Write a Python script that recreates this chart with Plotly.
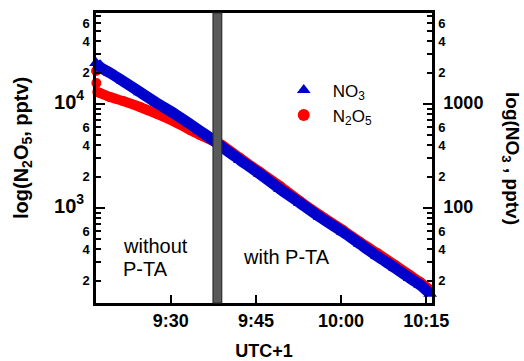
import pandas as pd
import plotly.graph_objects as go

DAY = "2021-01-01 "

# NO3 mixing ratio (pptv), right axis
no3_time = ["09:16:51", "09:17:33", "09:19:19", "09:21:36", "09:24:36", "09:27:35",
            "09:30:46", "09:33:24", "09:35:10", "09:37:27", "09:39:02", "09:42:12",
            "09:45:43", "09:49:15", "09:52:45", "09:56:15", "10:00:20", "10:03:20",
            "10:06:20", "10:09:30", "10:12:05", "10:13:55", "10:15:40"]
no3_pptv = [2480, 2270, 1990, 1660, 1300, 1020, 800, 642, 550, 451, 386, 290,
            212, 152, 112, 82, 58.7, 45, 34.5, 26.5, 21.2, 18.2, 15.0]

# N2O5 mixing ratio (pptv), left axis
n2o5_time = ["09:16:52", "09:16:55", "09:17:05", "09:17:33", "09:19:19", "09:21:36",
             "09:24:36", "09:27:35", "09:30:46", "09:33:24", "09:35:10", "09:37:27",
             "09:39:02", "09:42:12", "09:45:43", "09:49:15", "09:52:45", "09:56:15",
             "10:00:20", "10:03:20", "10:06:20", "10:09:30", "10:12:05", "10:13:55",
             "10:15:40"]
n2o5_pptv = [20750, 15900, 13040, 12760, 11670, 10690, 9360, 8010, 6710, 5620,
             5040, 4405, 4036, 3029, 2222, 1627, 1167, 857, 614, 471, 369, 283,
             227, 194, 163]

# period when P-TA was switched in
switch_start, switch_end = "09:37:27", "09:38:59"
time_ticks = ["09:30", "09:45", "10:00", "10:15"]
x_window = ["09:16:51", "10:16:00"]

FONT = "Arial, Liberation Sans, sans-serif"
BLUE = "#0000cc"
RED = "#ff0000"

t_no3 = pd.to_datetime([DAY + t for t in no3_time])
t_n2o5 = pd.to_datetime([DAY + t for t in n2o5_time])

fig = go.Figure()

# N2O5 band (y) and its markers (y2, an overlay carrying the long decade ticks);
# the first two samples are isolated spikes and are left out of the band
fig.add_trace(go.Scatter(x=t_n2o5[2:], y=n2o5_pptv[2:], mode="lines",
                         line=dict(color=RED, width=10, shape="spline", smoothing=0.6),
                         showlegend=False, hoverinfo="skip", yaxis="y"))
fig.add_trace(go.Scatter(x=t_n2o5, y=n2o5_pptv, mode="markers",
                         marker=dict(symbol="circle", size=10, color=RED),
                         name="N<sub>2</sub>O<sub>5</sub>", legendrank=2,
                         cliponaxis=False, yaxis="y2"))

# NO3 band (y3, right axis) and its markers (y4, overlay with decade ticks)
fig.add_trace(go.Scatter(x=t_no3, y=no3_pptv, mode="lines",
                         line=dict(color=BLUE, width=11, shape="spline", smoothing=0.6),
                         showlegend=False, hoverinfo="skip", yaxis="y3"))
fig.add_trace(go.Scatter(x=t_no3, y=no3_pptv, mode="markers",
                         marker=dict(symbol="triangle-up", size=12, color=BLUE),
                         name="NO<sub>3</sub>", legendrank=1,
                         cliponaxis=False, yaxis="y4"))

left_range = [2.0865, 4.875]
right_range = [left_range[0] - 1, left_range[1] - 1]


def labelled_ticks(decades, big_text, big_size):
    """Decade values with large labels, plus small 2/4/6 labels."""
    vals, text = [], []
    for d, lab in zip(decades, big_text):
        if lab:
            vals.append(d)
            text.append(f'<span style="font-size:{big_size}px">{lab}</span>')
        for m in (2, 4, 6):
            vals.append(m * d)
            text.append(str(m))
    return vals, text


def plain_ticks(decades):
    return [m * d for d in decades for m in (3, 5, 7, 8, 9)]


base = dict(type="log", showgrid=False, zeroline=False, fixedrange=True,
            automargin=False, anchor="x")
tick_style = dict(ticks="inside", tickwidth=2, tickcolor="black")

left_vals, left_text = labelled_ticks(
    [100, 1000, 10000], ["", "10<sup>3</sup> ", "10<sup>4</sup> "], 20)
right_vals, right_text = labelled_ticks(
    [10, 100, 1000], ["", " 100", " 1000"], 18)

fig.update_layout(
    width=524, height=361,
    margin=dict(l=96, r=92, t=13, b=58),
    paper_bgcolor="white", plot_bgcolor="white",
    font=dict(family=FONT, color="black"),
    xaxis=dict(
        type="date", range=[DAY + x_window[0], DAY + x_window[1]],
        tickvals=[DAY + t for t in time_ticks], tickformat="%-H:%M",
        ticks="inside", ticklen=8, tickwidth=2, tickcolor="black",
        showline=True, linewidth=2.5, linecolor="black", mirror=True,
        showgrid=False, zeroline=False, fixedrange=True, automargin=False,
        tickfont=dict(size=18, weight="bold"),
        title=dict(text="UTC+1", font=dict(size=18, weight="bold"), standoff=19),
    ),
    # left axis: N2O5
    yaxis=dict(
        **base, **tick_style, range=left_range, side="left",
        tickvals=left_vals, ticktext=left_text, ticklen=5,
        minor=dict(tickmode="array", tickvals=plain_ticks([100, 1000, 10000]),
                   ticks="inside", ticklen=5, tickwidth=2, tickcolor="black"),
        showline=True, linewidth=2.5, linecolor="black",
        tickfont=dict(size=13, weight="bold"), ticklabelstandoff=1,
    ),
    yaxis2=dict(
        **base, **tick_style, range=left_range, overlaying="y", side="left",
        tickvals=[1e3, 1e4], ticklen=9, showticklabels=False, showline=False,
    ),
    # right axis: NO3
    yaxis3=dict(
        **base, **tick_style, range=right_range, overlaying="y", side="right",
        tickvals=right_vals, ticktext=right_text, ticklen=5,
        minor=dict(tickmode="array", tickvals=plain_ticks([10, 100, 1000]),
                   ticks="inside", ticklen=5, tickwidth=2, tickcolor="black"),
        showline=True, linewidth=2.5, linecolor="black",
        tickfont=dict(size=13, weight="bold"), ticklabelstandoff=1,
    ),
    yaxis4=dict(
        **base, **tick_style, range=right_range, overlaying="y", side="right",
        tickvals=[100, 1000], ticklen=9, showticklabels=False, showline=False,
    ),
    legend=dict(x=0.532, y=0.795, xanchor="left", yanchor="top",
                bgcolor="rgba(0,0,0,0)", font=dict(size=17),
                itemsizing="constant", itemwidth=48),
    showlegend=True,
)

fig.add_shape(type="rect", xref="x", yref="paper",
              x0=DAY + switch_start, x1=DAY + switch_end, y0=0, y1=1,
              fillcolor="#5a5a5a", line=dict(color="#2e2e2e", width=1.2),
              layer="above")

labels = [
    ("without", "09:21:20", 246),
    ("P-TA", "09:21:20", 269),
    ("with P-TA", "09:42:25", 257),
]
for txt, tx, ypix in labels:
    fig.add_annotation(text=txt, x=DAY + tx, xref="x", xanchor="left",
                       y=1 - (ypix - 13) / 290, yref="paper", yanchor="middle",
                       showarrow=False, font=dict(size=20))

fig.add_annotation(text="log(N<sub>2</sub>O<sub>5</sub>, pptv)", textangle=-90,
                   x=(23 - 96) / 336, xref="paper", xanchor="center",
                   y=1 - (148 - 13) / 290, yref="paper", yanchor="middle",
                   showarrow=False, font=dict(size=20, weight="bold"))
fig.add_annotation(text="log(NO<sub>3</sub> , pptv)", textangle=90,
                   x=(511 - 96) / 336, xref="paper", xanchor="center",
                   y=1 - (158 - 13) / 290, yref="paper", yanchor="middle",
                   showarrow=False, font=dict(size=19, weight="bold"))

fig.write_html("out.html")
